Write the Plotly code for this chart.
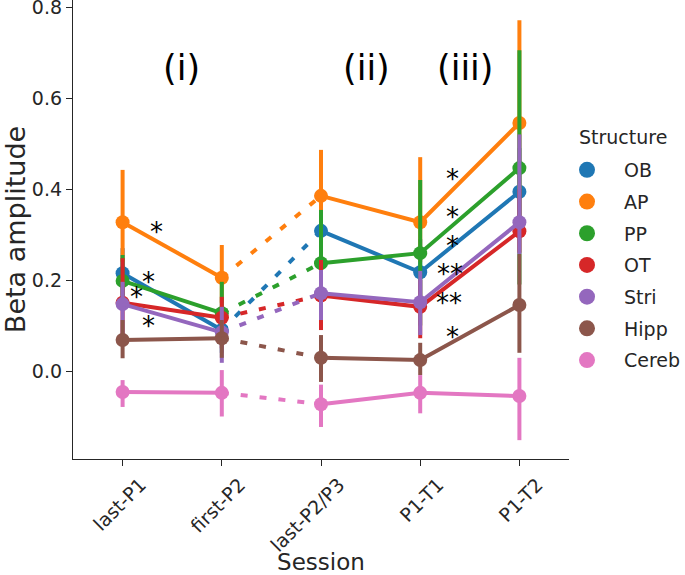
import plotly.graph_objects as go

sessions = ["last-P1", "first-P2", "last-P2/P3", "P1-T1", "P1-T2"]
structures = ["OB", "AP", "PP", "OT", "Stri", "Hipp", "Cereb"]
colors = ["#1f77b4", "#ff7f0e", "#2ca02c", "#d62728", "#9467bd", "#8c564b", "#e377c2"]

ob_mean = [0.215, 0.090, 0.308, 0.217, 0.394]
ob_lo = [0.16, 0.04, 0.22, 0.15, 0.30]
ob_hi = [0.27, 0.14, 0.38, 0.29, 0.49]

ap_mean = [0.327, 0.205, 0.385, 0.327, 0.545]
ap_lo = [0.24, 0.15, 0.28, 0.24, 0.40]
ap_hi = [0.442, 0.277, 0.486, 0.470, 0.771]

pp_mean = [0.198, 0.127, 0.237, 0.259, 0.446]
pp_lo = [0.14, 0.07, 0.12, 0.10, 0.19]
pp_hi = [0.255, 0.196, 0.354, 0.420, 0.705]

ot_mean = [0.150, 0.117, 0.166, 0.141, 0.307]
ot_lo = [0.06, 0.05, 0.09, 0.072, 0.26]
ot_hi = [0.248, 0.163, 0.244, 0.20, 0.40]

stri_mean = [0.147, 0.085, 0.171, 0.151, 0.327]
stri_lo = [0.06, 0.018, 0.112, 0.079, 0.257]
stri_hi = [0.196, 0.141, 0.222, 0.22, 0.52]

hipp_mean = [0.068, 0.072, 0.029, 0.024, 0.145]
hipp_lo = [0.028, 0.029, -0.024, -0.009, 0.04]
hipp_hi = [0.112, 0.112, 0.079, 0.062, 0.257]

cereb_mean = [-0.046, -0.048, -0.073, -0.048, -0.055]
cereb_lo = [-0.079, -0.100, -0.123, -0.093, -0.152]
cereb_hi = [-0.020, 0.002, -0.030, -0.009, 0.029]

means = [ob_mean, ap_mean, pp_mean, ot_mean, stri_mean, hipp_mean, cereb_mean]
los = [ob_lo, ap_lo, pp_lo, ot_lo, stri_lo, hipp_lo, cereb_lo]
his = [ob_hi, ap_hi, pp_hi, ot_hi, stri_hi, hipp_hi, cereb_hi]

# significance marks: (session-position offset, value, text)
sig_marks = [
    (0.343, 0.314, "*"), (0.263, 0.204, "*"), (0.141, 0.171, "*"), (0.263, 0.108, "*"),
    (3.323, 0.431, "*"), (3.323, 0.347, "*"), (3.323, 0.284, "*"),
    (3.303, 0.222, "**"), (3.293, 0.158, "**"), (3.323, 0.084, "*"),
]
phase_labels = [(0.596, 0.666, "(i)"), (2.455, 0.666, "(ii)"), (3.455, 0.666, "(iii)")]

LW = 4
fig = go.Figure()
for name, col, m, lo, hi in zip(structures, colors, means, los, his):
    fig.add_trace(go.Scatter(
        x=sessions, y=m, mode="markers",
        marker=dict(color=col, size=14),
        error_y=dict(type="data", array=[h - v for h, v in zip(hi, m)],
                     arrayminus=[v - l for l, v in zip(lo, m)],
                     color=col, thickness=LW, width=0),
        showlegend=False, hoverinfo="skip"))
    fig.add_trace(go.Scatter(
        x=[sessions[0], sessions[1], None, sessions[2], sessions[3], sessions[4]],
        y=[m[0], m[1], None, m[2], m[3], m[4]],
        mode="lines", line=dict(color=col, width=LW), showlegend=False,
        connectgaps=False, hoverinfo="skip"))
    fig.add_trace(go.Scatter(
        x=[sessions[1], sessions[2]], y=[m[1], m[2]],
        mode="lines", line=dict(color=col, width=LW, dash="7px,12px"),
        showlegend=False, hoverinfo="skip"))
    fig.add_trace(go.Scatter(
        x=[None], y=[None], mode="markers", name=name, legendgroup=name,
        marker=dict(color=col, size=16)))

annotations = []
for xo, yv, t in sig_marks:
    annotations.append(dict(x=xo, y=yv, xref="x", yref="y", text=t, showarrow=False,
                            font=dict(size=26, color="black", family="DejaVu Sans"),
                            xanchor="center", yanchor="middle", yshift=-4))
for xo, yv, t in phase_labels:
    annotations.append(dict(x=xo, y=yv, xref="x", yref="y", text=t, showarrow=False,
                            font=dict(size=35, color="black", family="DejaVu Sans"),
                            xanchor="center", yanchor="middle"))
annotations.append(dict(x=(577 - 73) / 496, y=(459 - 137) / 459, xref="paper", yref="paper",
                        text="Structure", showarrow=False, xanchor="left", yanchor="middle",
                        font=dict(size=19, color="#262626", family="DejaVu Sans")))

axcol = "#262626"
fig.update_layout(
    width=685, height=575,
    margin=dict(l=73, r=116, t=0, b=116, autoexpand=False),
    paper_bgcolor="white", plot_bgcolor="white",
    font=dict(family="DejaVu Sans", size=19, color=axcol),
    xaxis=dict(type="category", categoryorder="array", categoryarray=sessions,
               range=[-0.5, 4.5], showgrid=False, zeroline=False,
               showline=True, linecolor=axcol, linewidth=1.3,
               ticks="outside", ticklen=6, tickwidth=1.3, tickcolor=axcol,
               tickangle=-45, tickfont=dict(size=19), ticklabelshift=18,
               title=dict(text="Session", font=dict(size=23), standoff=4)),
    yaxis=dict(range=[-0.1934, 0.8154], showgrid=False, zeroline=False,
               showline=True, linecolor=axcol, linewidth=1.3,
               ticks="outside", ticklen=6, tickwidth=1.3, tickcolor=axcol,
               tickvals=[0.0, 0.2, 0.4, 0.6, 0.8], ticktext=["0.0", "0.2", "0.4", "0.6", "0.8"],
               tickfont=dict(size=19), ticklabeloverflow="allow",
               title=dict(text="Beta amplitude", font=dict(size=27), standoff=4)),
    legend=dict(font=dict(size=19), xref="paper", yref="paper",
                x=(550 - 73) / 496, y=(459 - 151) / 459, xanchor="left", yanchor="top",
                tracegroupgap=4, itemwidth=64, bgcolor="rgba(0,0,0,0)"),
    annotations=annotations,
    showlegend=True,
)

fig.write_html("out.html", config={"displayModeBar": False},
               post_script="document.body.style.margin='0px';")
